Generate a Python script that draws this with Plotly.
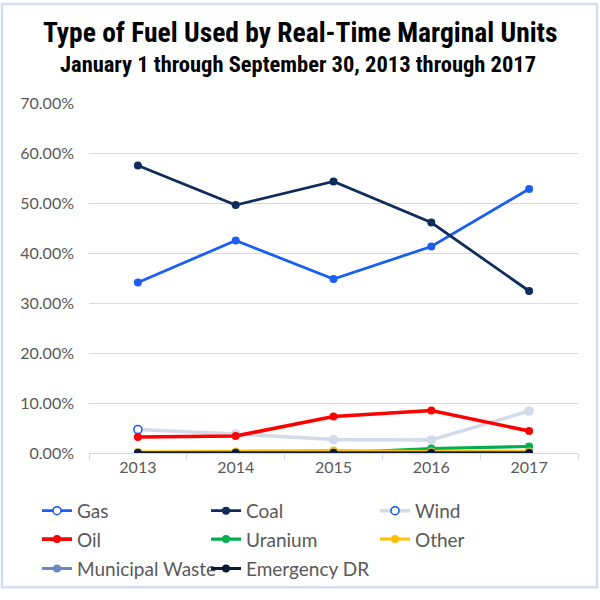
import plotly.graph_objects as go

# ---- data (percent of marginal units) ----
years = ["2013", "2014", "2015", "2016", "2017"]
gas = [34.1, 42.5, 34.8, 41.3, 52.8]
coal = [57.5, 49.6, 54.3, 46.1, 32.4]
wind = [4.7, 3.8, 2.7, 2.6, 8.4]
oil = [3.2, 3.4, 7.3, 8.5, 4.4]
uranium = [0.0, 0.0, 0.0, 0.9, 1.3]
other = [0.2, 0.3, 0.5, 0.3, 0.3]
municipal_waste = [0.1, 0.1, 0.1, 0.1, 0.1]
emergency_dr = [0.0, 0.0, 0.0, 0.0, 0.0]

title_line1 = "Type of Fuel Used by Real-Time Marginal Units"
title_line2 = "January 1 through September 30, 2013 through 2017"

# ---- layout geometry (px) ----
W, H = 600, 600
L, R, T, B = 89, 22, 103, 140
PW, PH = W - L - R, H - T - B


def px_x(x):
    return (x - L) / PW


def px_y(y):
    return (H - B - y) / PH


LIGHT = "#d3dbea"
GAS_BLUE = "#1a5ff0"
TXT = "#595959"
TICKFONT = dict(family="Lato, 'Open Sans', sans-serif", size=16, color=TXT)

series = [
    ("Gas", gas, GAS_BLUE, 2.8, "legend"),
    ("Coal", coal, "#0e2d5a", 2.8, "legend"),
    ("Wind", wind, LIGHT, 3.4, "legend"),
    ("Oil", oil, "#ff0000", 3.6, "legend2"),
    ("Uranium", uranium, "#00b050", 3.2, "legend2"),
    ("Other", other, "#ffc000", 3.0, "legend2"),
    ("Municipal Waste", municipal_waste, "#6a89c4", 3.0, "legend3"),
    ("Emergency DR", emergency_dr, "#0b1a36", 3.0, "legend3"),
]

fig = go.Figure()
for name, vals, color, lw, lg in series:
    if name == "Wind":
        marker = dict(size=8,
                      color=["white"] + [color] * (len(vals) - 1),
                      line=dict(color=[GAS_BLUE] + [color] * (len(vals) - 1), width=1.6))
    else:
        marker = dict(size=8, color=color, line=dict(width=0))
    fig.add_trace(go.Scatter(
        x=years, y=vals, name=name, mode="lines+markers",
        line=dict(color=color, width=lw), marker=marker, legend=lg,
        hovertemplate="%{x}: %{y:.2f}%<extra>" + name + "</extra>",
    ))

legend_common = dict(
    orientation="h", xanchor="left", yanchor="middle",
    x=px_x(37), entrywidth=124, entrywidthmode="pixels",
    font=dict(family="Lato, 'Open Sans', sans-serif", size=19, color=TXT),
    bgcolor="rgba(0,0,0,0)", borderwidth=0, itemclick=False,
)

TITLE_FONT = "'Liberation Sans Narrow', 'Arial Narrow', 'Roboto Condensed', sans-serif"

fig.update_layout(
    width=W, height=H,
    margin=dict(l=L, r=R, t=T, b=B),
    paper_bgcolor="white", plot_bgcolor="white",
    showlegend=True,
    legend=dict(legend_common, y=px_y(519)),
    legend2=dict(legend_common, y=px_y(548)),
    legend3=dict(legend_common, y=px_y(578)),
    xaxis=dict(
        type="category", range=[-0.5, 4.5],
        showline=True, linecolor="#d9d9d9", linewidth=1,
        ticks="outside", tickson="boundaries", ticklen=6, tickcolor="#d9d9d9",
        showgrid=False, tickfont=TICKFONT, fixedrange=True,
    ),
    yaxis=dict(
        range=[0, 70], dtick=10, tickformat=".2f", ticksuffix="%",
        showgrid=True, gridcolor="#d9d9d9", gridwidth=1,
        zeroline=False, showline=False, ticks="",
        ticklabelstandoff=14, tickfont=TICKFONT, fixedrange=True,
    ),
    annotations=[
        dict(text="<b>" + title_line1 + "</b>", xref="paper", yref="paper",
             x=px_x(300), y=px_y(31), xanchor="center", yanchor="middle",
             showarrow=False, font=dict(family=TITLE_FONT, size=27.5, color="black")),
        dict(text="<b>" + title_line2 + "</b>", xref="paper", yref="paper",
             x=px_x(298), y=px_y(63), xanchor="center", yanchor="middle",
             showarrow=False, font=dict(family=TITLE_FONT, size=22.5, color="black")),
    ],
    shapes=[
        dict(type="rect", xref="paper", yref="paper",
             x0=px_x(2), x1=px_x(597), y0=px_y(597), y1=px_y(2),
             line=dict(color="#d3ddef", width=2.5), fillcolor="rgba(0,0,0,0)",
             layer="below"),
    ],
)

post = """
document.body.style.margin='0';
document.body.style.overflow='hidden';
var gd = document.getElementById('{plot_id}');
function openGasLegend() {
  var p = document.querySelector('g.legend .traces .legendpoints path');
  if (p) { p.style.fill = 'white'; p.style.stroke = '%s'; p.style.strokeWidth = '1.6px'; }
}
if (gd && gd.on) { gd.on('plotly_afterplot', openGasLegend); }
openGasLegend();
setTimeout(openGasLegend, 300);
""" % GAS_BLUE

fig.write_html(
    "out.html",
    config={"displayModeBar": False},
    post_script=post,
)
